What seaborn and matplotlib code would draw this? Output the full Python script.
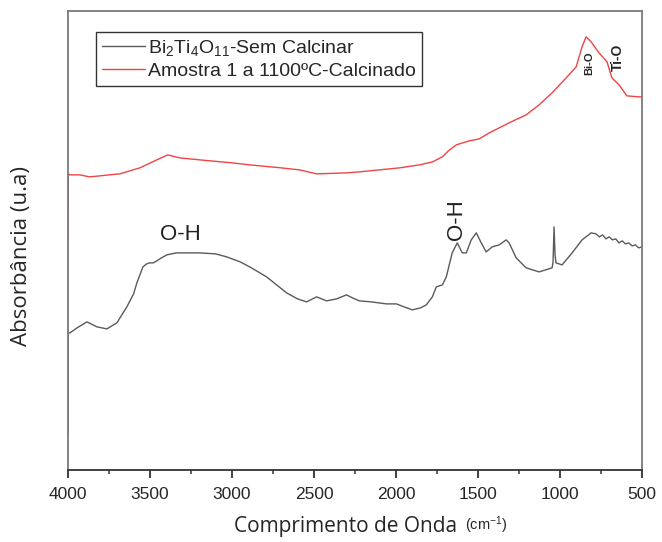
import matplotlib
matplotlib.use("Agg")
import matplotlib.pyplot as plt
from matplotlib.ticker import MultipleLocator
import seaborn as sns
import pandas as pd

# FTIR spectra (wavenumber in cm^-1, absorbance in arbitrary units)
wn_raw = [4000, 3999, 3988, 3945, 3884, 3823, 3763, 3702, 3641, 3600, 3580, 3543,
          3520, 3501, 3480, 3458, 3430, 3397, 3370, 3337, 3197, 3100, 3032, 2950,
          2892, 2840, 2789, 2720, 2667, 2600, 2545, 2484, 2423, 2362, 2302, 2265,
          2223, 2150, 2058, 1997, 1950, 1900, 1850, 1815, 1778, 1754, 1717, 1693,
          1657, 1626, 1596, 1571, 1541, 1510, 1480, 1450, 1413, 1370, 1328, 1310,
          1267, 1206, 1127, 1048, 1042, 1036, 1030, 1024, 987, 926, 865, 810, 780,
          760, 740, 720, 700, 680, 660, 640, 620, 600, 580, 560, 540, 520, 500]
abs_raw = [0.37, 1.37, 1.37, 1.42, 1.48, 1.43, 1.41, 1.47, 1.63, 1.76, 1.87, 2.03,
           2.06, 2.07, 2.07, 2.09, 2.12, 2.15, 2.16, 2.17, 2.17, 2.16, 2.13, 2.08,
           2.03, 1.98, 1.93, 1.84, 1.77, 1.71, 1.68, 1.73, 1.69, 1.71, 1.75, 1.72,
           1.69, 1.68, 1.66, 1.66, 1.63, 1.60, 1.62, 1.65, 1.73, 1.83, 1.85, 1.93,
           2.17, 2.27, 2.17, 2.17, 2.30, 2.37, 2.27, 2.18, 2.23, 2.25, 2.30, 2.27,
           2.12, 2.02, 1.98, 2.02, 2.08, 2.43, 2.15, 2.07, 2.05, 2.17, 2.30, 2.37,
           2.36, 2.33, 2.35, 2.31, 2.33, 2.30, 2.31, 2.27, 2.29, 2.26, 2.27, 2.24,
           2.25, 2.22, 2.23]

wn_calc = [4000, 3999, 3988, 3927, 3870, 3805, 3750, 3684, 3562, 3471, 3392, 3319,
           3197, 3000, 2892, 2700, 2588, 2484, 2300, 2223, 2100, 1978, 1856, 1777,
           1717, 1680, 1632, 1553, 1492, 1431, 1310, 1206, 1127, 1048, 962, 901,
           865, 841, 810, 762, 713, 683, 640, 592, 518, 500]
abs_calc = [2.30, 2.96, 2.95, 2.95, 2.93, 2.94, 2.95, 2.96, 3.02, 3.09, 3.15, 3.12,
            3.10, 3.07, 3.05, 3.02, 3.00, 2.96, 2.97, 2.98, 3.00, 3.02, 3.05, 3.08,
            3.13, 3.19, 3.25, 3.29, 3.31, 3.37, 3.47, 3.55, 3.65, 3.77, 3.92, 4.03,
            4.23, 4.33, 4.28, 4.17, 4.08, 3.92, 3.85, 3.74, 3.73, 3.73]

label_raw = "Bi$_2$Ti$_4$O$_{11}$-Sem Calcinar"
label_calc = "Amostra 1 a 1100ºC-Calcinado"
x_ticks = [4000, 3500, 3000, 2500, 2000, 1500, 1000, 500]

sns.set_style("white")
plt.rcParams["font.family"] = ["Liberation Sans", "DejaVu Sans"]
plt.rcParams["mathtext.fontset"] = "custom"
plt.rcParams["mathtext.rm"] = "Liberation Sans"
plt.rcParams["mathtext.it"] = "Liberation Sans:italic"

df_raw = pd.DataFrame({"wn": wn_raw, "absorb": abs_raw})
df_calc = pd.DataFrame({"wn": wn_calc, "absorb": abs_calc})

fig = plt.figure(figsize=(6.62, 5.42), dpi=100)
ax = fig.add_axes([0.1027, 0.133, 0.867, 0.847])

sns.lineplot(data=df_raw, x="wn", y="absorb", sort=False, ax=ax,
             color="#5a5a5a", linewidth=1.0, label=label_raw)
sns.lineplot(data=df_calc, x="wn", y="absorb", sort=False, ax=ax,
             color="#f04444", linewidth=1.0, label=label_calc)

ax.set_xlim(4000, 500)
ax.set_ylim(0, 4.59)
ax.set_xticks(x_ticks)
ax.set_xticklabels([str(t) for t in x_ticks], fontsize=12.5)
ax.xaxis.set_minor_locator(MultipleLocator(250))
ax.set_yticks([])
ax.tick_params(axis="x", which="major", direction="out", length=6, width=1.3,
               color="#333333", pad=6, bottom=True)
ax.tick_params(axis="x", which="minor", direction="out", length=3, width=1.1,
               color="#333333", bottom=True)

for sp in ax.spines.values():
    sp.set_visible(True)
    sp.set_color("#7a7a7a")
    sp.set_linewidth(1.3)
ax.spines["bottom"].set_color("#333333")

ax.set_xlabel("Comprimento de Onda", fontfamily="Open Sans", fontsize=15)
ax.xaxis.set_label_coords(0.483, -0.1)
ax.set_ylabel("Absorbância (u.a)", fontfamily="Open Sans", fontsize=16)
ax.yaxis.set_label_coords(-0.062, 0.466)
ax.annotate("(cm$^{-1}$)", xy=(1, 0.55), xycoords=ax.xaxis.label,
            xytext=(6, 0), textcoords="offset points", ha="left", va="center",
            fontsize=10.5)

# band assignments
ax.text(3317, 2.35, "O-H", fontsize=16, ha="center", va="center", color="#222222")
ax.text(1628, 2.50, "O-H", fontsize=16, ha="center", va="center", rotation=90,
        color="#222222")
ax.text(823, 4.07, "Bi-O", fontsize=8, fontweight="bold", ha="center", va="center",
        rotation=90)
ax.text(646, 4.13, "Ti-O", fontsize=10, fontweight="bold", ha="center", va="center",
        rotation=90)

leg = ax.legend(loc="upper left", bbox_to_anchor=(0.0488, 0.954), borderaxespad=0,
                fontsize=14, frameon=True, fancybox=False, framealpha=1,
                edgecolor="#333333", borderpad=0.3, handlelength=2.2,
                handletextpad=0.2, labelspacing=0.25)
leg.get_frame().set_linewidth(1.0)

fig.savefig("out.png", dpi=100)
